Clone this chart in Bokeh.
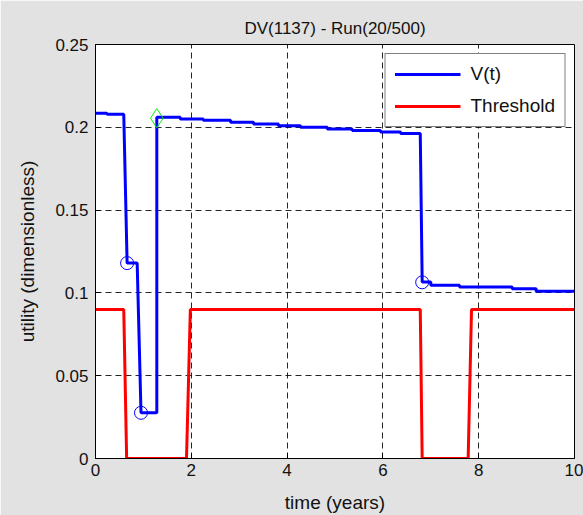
from bokeh.plotting import figure
from bokeh.models import Range1d, FixedTicker, Legend, LegendItem
from bokeh.embed import file_html
from bokeh.resources import INLINE

# ---- data ----
v_time = [0.0, 0.24, 0.24, 0.59, 0.66, 0.87, 0.95, 1.28, 1.28, 1.77, 1.77, 2.25, 2.25,
          2.82, 2.82, 3.30, 3.30, 3.82, 3.82, 4.28, 4.28, 4.84, 4.84, 5.36, 5.36,
          5.95, 5.95, 6.37, 6.37, 6.78, 6.82, 7.0, 7.0, 7.6, 7.6, 8.7, 8.7, 9.2, 9.2, 10.0]
v_value = [0.2085, 0.2085, 0.2079, 0.2079, 0.118, 0.118, 0.0276, 0.0276, 0.2061, 0.2061,
           0.2050, 0.2050, 0.2043, 0.2043, 0.2031, 0.2031, 0.2020, 0.2020, 0.2010, 0.2010,
           0.2000, 0.2000, 0.1990, 0.1990, 0.1980, 0.1980, 0.1972, 0.1972, 0.1962, 0.1962,
           0.1066, 0.1066, 0.1046, 0.1046, 0.1036, 0.1036, 0.1025, 0.1025, 0.1010, 0.1010]
thr_time = [0.0, 0.59, 0.65, 1.90, 1.98, 6.78, 6.82, 7.78, 7.85, 10.0]
thr_value = [0.09, 0.09, 0.0, 0.0, 0.09, 0.09, 0.0, 0.0, 0.09, 0.09]
drop_time = [0.66, 0.95, 6.82]
drop_value = [0.118, 0.0276, 0.1064]
jump_time = [1.28]
jump_value = [0.2055]
x_ticks = [0, 2, 4, 6, 8, 10]
x_labels = ["0", "2", "4", "6", "8", "10"]
y_ticks = [0, 0.05, 0.1, 0.15, 0.2, 0.25]
y_labels = ["0", "0.05", "0.1", "0.15", "0.2", "0.25"]
title_text = "DV(1137) - Run(20/500)"
series_names = ["V(t)", "Threshold"]

FONT = "Liberation Sans"
BG = "#e2e2e2"

p = figure(width=583, height=515, x_range=Range1d(0, 10), y_range=Range1d(0, 0.25),
           output_backend="svg", toolbar_location=None, title=title_text,
           min_border_left=95, min_border_top=44, min_border_right=9, min_border_bottom=54,
           background_fill_color="white", border_fill_color=BG)
p.outline_line_color = "black"
p.outline_line_width = 1

p.title.align = "center"
p.title.vertical_align = "top"
p.title.text_font = FONT
p.title.text_font_size = "17px"
p.title.text_font_style = "normal"
p.title.text_color = "#111111"
p.title.standoff = 10

for ax, ticks, labels in ((p.xaxis[0], x_ticks, x_labels), (p.yaxis[0], y_ticks, y_labels)):
    ax.ticker = FixedTicker(ticks=ticks)
    ax.major_label_overrides = {t: l for t, l in zip(ticks, labels)}
    ax.major_tick_in = 5
    ax.major_tick_out = 0
    ax.minor_tick_in = 0
    ax.minor_tick_out = 0
    ax.major_label_text_font = FONT
    ax.major_label_text_font_size = "17px"
    ax.major_label_text_color = "#111111"
    ax.axis_label_text_font = FONT
    ax.axis_label_text_font_size = "19px"
    ax.axis_label_text_font_style = "normal"
    ax.axis_label_text_color = "#111111"
    ax.axis_line_color = "black"
    ax.major_tick_line_color = "black"

p.xaxis.axis_label = "time (years)"
p.yaxis.axis_label = "utility (dimensionless)"
p.xaxis.major_label_standoff = 5
p.yaxis.major_label_standoff = 7
p.xaxis.axis_label_standoff = 13
p.yaxis.axis_label_standoff = 14

p.xgrid.ticker = FixedTicker(ticks=x_ticks)
p.ygrid.ticker = FixedTicker(ticks=y_ticks)
p.grid.grid_line_color = "black"
p.grid.grid_line_dash = "6 4"
p.grid.grid_line_width = 1
p.grid.grid_line_alpha = 0.85

r_v = p.line(v_time, v_value, line_color="#0000ff", line_width=3)
r_t = p.line(thr_time, thr_value, line_color="#ff0000", line_width=3)
p.scatter(drop_time, drop_value, marker="circle", size=13, fill_color=None,
          line_color="#0000ff", line_width=1)
p.scatter(jump_time, jump_value, marker="diamond", size=19, fill_color=None,
          line_color="#00ee00", line_width=1)

legend = Legend(items=[LegendItem(label=series_names[0], renderers=[r_v]),
                       LegendItem(label=series_names[1], renderers=[r_t])],
                location="top_right")
legend.margin = 9
legend.padding = 9
legend.spacing = 10
legend.glyph_width = 66
legend.glyph_height = 20
legend.label_height = 20
legend.label_standoff = 10
legend.label_text_font = FONT
legend.label_text_font_size = "19px"
legend.label_text_color = "#111111"
legend.border_line_color = "black"
legend.border_line_width = 1
legend.background_fill_color = "white"
legend.background_fill_alpha = 1.0
p.add_layout(legend, "center")

open("out.html", "w").write(file_html(p, INLINE))
